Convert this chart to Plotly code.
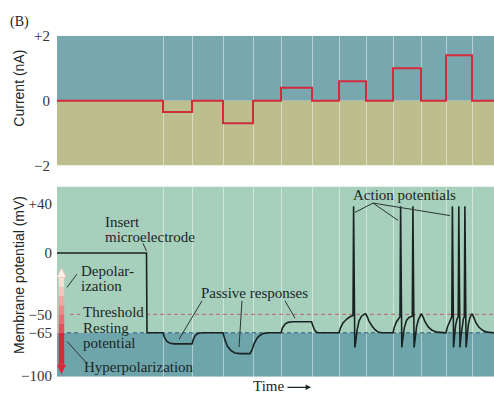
import plotly.graph_objects as go

# ---------------- data ----------------
# time in arbitrary units (0..437)
step_times = [106, 135, 166, 196, 224, 255, 282, 309, 336, 364, 389, 415]
current_t = [0, 106, 135, 166, 196, 224, 255, 282, 309, 336, 364, 389, 415, 437]
current_nA = [0, -0.35, 0, -0.7, 0, 0.4, 0, 0.6, 0, 1.0, 0, 1.4, 0, 0]

mem_t = [0, 89.5, 90, 106,
         107.5, 110, 113, 117, 135, 136.5, 138.5, 141, 145,
         166, 168, 170.5, 174, 178, 183, 193, 195, 197, 200, 203, 207, 211,
         224, 225.5, 228, 231, 236, 254.5, 256, 257.5, 259.5, 262,
         282, 283.5, 286, 289.5, 293, 296, 296.6, 297.8, 298.8, 300, 302, 304.5, 307, 308.5,
         310, 312, 315, 318, 321, 325,
         336, 337.5, 339.5, 341.5, 343, 343.6, 344.8, 345.8, 347.3, 349.5, 352, 355.3,
         355.9, 357.1, 358.1, 359.6, 361.5, 363.5, 364.5, 366, 368, 371, 375, 380, 386,
         389, 390.5, 392.5, 394.8, 395.4, 396.6, 397.4, 398.6, 400, 401.2, 401.8, 403,
         403.8, 405, 406.3, 407.3, 407.9, 409.1, 410, 411.4, 413, 414.5, 415.5, 417, 419,
         422, 426, 430, 434, 437]
mem_mV = [0, 0, -65, -65,
          -69, -72, -73.5, -74, -74, -70, -67, -65.5, -65,
          -65, -71, -76, -79.5, -81.5, -82, -82, -79, -74, -69.5, -67, -65.5, -65,
          -65, -61, -58, -56.5, -56, -56, -59.5, -62.5, -64.5, -65,
          -65, -61, -57, -54, -52, -51, 38, -77, -72, -63, -55.5, -51.5, -50, -49.5,
          -51.5, -55.5, -59.5, -62.5, -64.3, -65,
          -65, -60, -56, -53.5, -52, 38, -77, -70, -61, -55, -52.5, -51.5,
          38, -77, -70, -60, -54, -50, -49.5, -52, -56, -60, -63, -64.5, -65,
          -65, -60, -55.5, -52, 38, -77, -69, -59, -54, -52, 38, -77,
          -69, -59, -54, -52, 38, -77, -68, -58, -52.5, -50, -50, -53.5, -57,
          -60.5, -63.2, -64.5, -65, -65]

top_ticks = [-2, 0, 2]
top_labels = ["\u22122", "0", "+2"]
bot_ticks = [-100, -65, -50, 0, 40]
bot_labels = ["\u2212100", "\u221265", "\u221250", "0", "+40"]

THRESHOLD = -50
RESTING = -65

# ---------------- styling ----------------
W, H = 494, 403
SERIF = "Liberation Serif"
SANS = "Liberation Sans"
TXT = "#1b2626"

top_blue = "#78a8ae"
top_khaki = "#bcbe8e"
bot_mint = "#a6d0bc"
bot_teal = "#6ea5ab"

XR = [0, 437]
Y2R = [-100.8, 54]

fig = go.Figure()
fig.add_trace(go.Scatter(x=current_t, y=current_nA, mode="lines", line_shape="hv",
                         line=dict(color="#d42a3e", width=2), xaxis="x", yaxis="y",
                         hoverinfo="skip", showlegend=False))
fig.add_trace(go.Scatter(x=mem_t, y=mem_mV, mode="lines",
                         line=dict(color="#1a2323", width=1.6), xaxis="x2", yaxis="y2",
                         hoverinfo="skip", showlegend=False))

shapes = []
# backgrounds
shapes.append(dict(type="rect", xref="x", yref="y", x0=XR[0], x1=XR[1], y0=0, y1=2,
                   fillcolor=top_blue, line_width=0, layer="below"))
shapes.append(dict(type="rect", xref="x", yref="y", x0=XR[0], x1=XR[1], y0=-2, y1=0,
                   fillcolor=top_khaki, line_width=0, layer="below"))
shapes.append(dict(type="rect", xref="x2", yref="y2", x0=XR[0], x1=XR[1], y0=RESTING, y1=Y2R[1],
                   fillcolor=bot_mint, line_width=0, layer="below"))
shapes.append(dict(type="rect", xref="x2", yref="y2", x0=XR[0], x1=XR[1], y0=Y2R[0], y1=RESTING,
                   fillcolor=bot_teal, line_width=0, layer="below"))

# threshold / resting dashed lines
for xa, xb in [(13, 23), (89, 437)]:
    shapes.append(dict(type="line", xref="x2", yref="y2", x0=xa, x1=xb, y0=THRESHOLD, y1=THRESHOLD,
                       line=dict(color="#c4646c", width=1, dash="4px,3px"), layer="between"))
for xa, xb in [(10, 23), (76, 437)]:
    shapes.append(dict(type="line", xref="x2", yref="y2", x0=xa, x1=xb, y0=RESTING, y1=RESTING,
                       line=dict(color="#2d5a78", width=1, dash="4px,3px"), layer="between"))

# gradient arrow (depolarization up, hyperpolarization down)
up_cols = ["#e0525c", "#e66d72", "#ec8a89", "#f1a7a1", "#f6c4bb", "#fadfd5"]
seg = (RESTING - (-20)) / len(up_cols)
for i, c in enumerate(up_cols):
    shapes.append(dict(type="rect", xref="x2", yref="y2", x0=1.8, x1=7.2,
                       y0=RESTING - i * seg, y1=RESTING - (i + 1) * seg,
                       fillcolor=c, line_width=0))
shapes.append(dict(type="path", xref="x2", yref="y2", path="M 0,-20 L 9,-20 L 4.5,-12 Z",
                   fillcolor="#fdf1ec", line=dict(color="#efc2b8", width=0.8)))
shapes.append(dict(type="rect", xref="x2", yref="y2", x0=1.8, x1=7.2, y0=RESTING, y1=-91,
                   fillcolor="#d8283c", line_width=0))
shapes.append(dict(type="path", xref="x2", yref="y2", path="M 0,-91 L 9,-91 L 4.5,-99 Z",
                   fillcolor="#d8283c", line_width=0))

# leader lines
leaders = [
    (86, 7.8, 89.5, 1.5),
    (20, -17.2, 10, -28.1),
    (10, -72, 30, -90),
    (145, -39, 122, -70.3),
    (185, -39, 182, -76.6),
    (228, -39, 238, -53.1),
    (316, 40.6, 298, 33),
    (316, 40.6, 341, 26.5),
    (316, 40.6, 393, 30.4),
]
for x0, y0, x1, y1 in leaders:
    shapes.append(dict(type="line", xref="x2", yref="y2", x0=x0, y0=y0, x1=x1, y1=y1,
                       line=dict(color="#2a3535", width=1)))

ann = []
FS = 15
def txt(x, y, s, xref="x2", yref="y2", size=FS, xanchor="left", font=SERIF, angle=0):
    ann.append(dict(x=x, y=y, xref=xref, yref=yref, text=s, showarrow=False,
                    xanchor=xanchor, yanchor="middle", textangle=angle,
                    font=dict(family=font, size=size, color=TXT)))

txt(46, 25.0, "Insert")
txt(46, 13.3, "microelectrode")
txt(22, -14.9, "Depolar-")
txt(22, -26.6, "ization")
txt(24, -47.8, "Threshold")
txt(24, -61.5, "Resting")
txt(24, -73.2, "potential")
txt(25, -92.6, "Hyperpolarization")
txt(142, -32.8, "Passive responses")
txt(294, 46.9, "Action potentials")

txt(8 / W, 1 - 15 / H, "(B)", xref="paper", yref="paper", size=14)
txt(19 / W, 1 - 84 / H, "Current (nA)", xref="paper", yref="paper", xanchor="center",
    font=SANS, angle=-90, size=14)
txt(19 / W, 1 - 278 / H, "Membrane potential (mV)", xref="paper", yref="paper",
    xanchor="center", font=SANS, angle=-90, size=14)
txt(268 / W, 1 - 394 / H, "Time", xref="paper", yref="paper", xanchor="center")
ann.append(dict(x=311 / W, y=1 - 395 / H, xref="paper", yref="paper", text="",
                showarrow=True, ax=-25, ay=0, arrowhead=2, arrowsize=0.9, arrowwidth=1.2,
                arrowcolor=TXT))

grid = dict(showgrid=True, gridcolor="rgba(255,255,255,0.45)", gridwidth=1.3,
            tickvals=step_times, showticklabels=False, ticks="", zeroline=False,
            showline=False, range=XR, fixedrange=True)
xdom = [57 / W, 1]
fig.update_layout(
    width=W, height=H, margin=dict(l=0, r=0, t=0, b=0),
    paper_bgcolor="white", plot_bgcolor="rgba(0,0,0,0)",
    xaxis=dict(domain=xdom, anchor="y", **grid),
    xaxis2=dict(domain=xdom, anchor="y2", **grid),
    yaxis=dict(domain=[1 - 164 / H, 1 - 29 / H], anchor="x", range=[-2, 2],
               tickvals=top_ticks, ticktext=top_labels, showgrid=False, zeroline=False,
               ticks="", tickfont=dict(family=SERIF, size=15, color="#333"),
               ticklabelstandoff=6),
    yaxis2=dict(domain=[1 - 384 / H, 1 - 186 / H], anchor="x2", range=Y2R,
                tickvals=bot_ticks, ticktext=bot_labels, showgrid=False, zeroline=False,
                ticks="", tickfont=dict(family=SERIF, size=15, color="#333"),
                ticklabelstandoff=4),
    shapes=shapes, annotations=ann, showlegend=False,
)
fig.write_html("out.html")
